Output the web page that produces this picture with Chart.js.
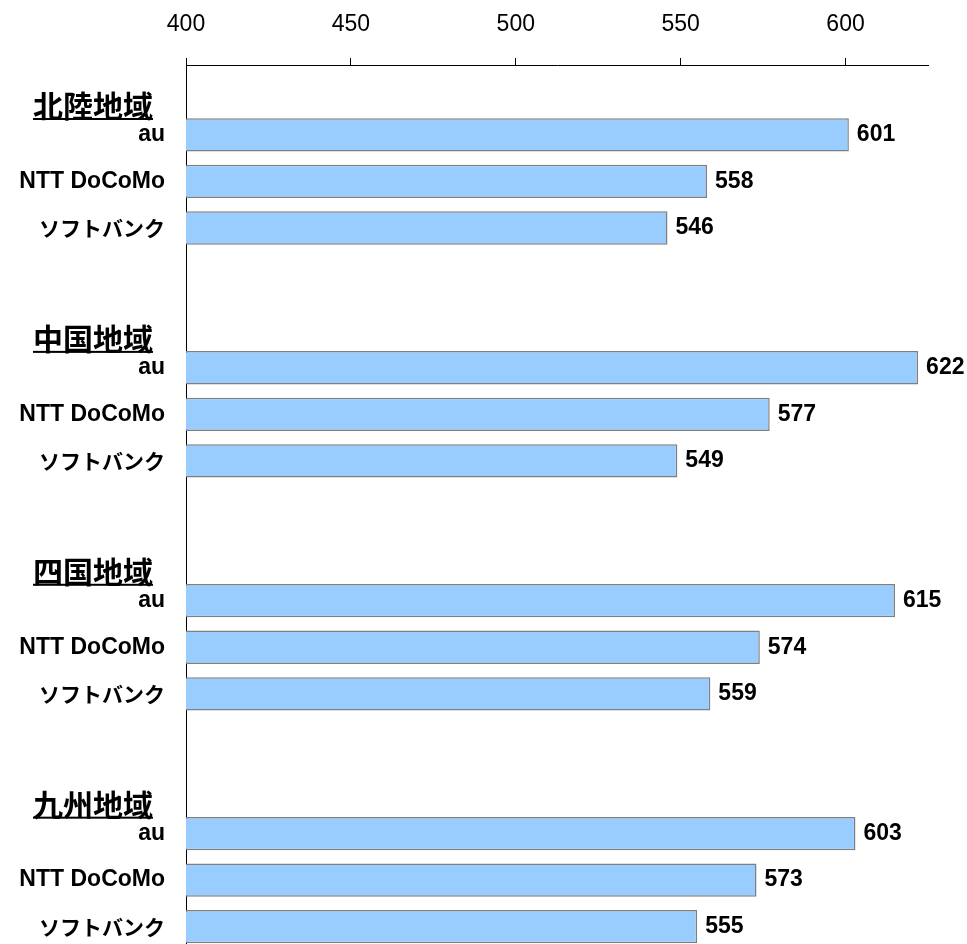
<!DOCTYPE html>
<html>
<head>
<meta charset="utf-8">
<script src="https://cdn.jsdelivr.net/npm/chart.js@4/dist/chart.umd.min.js"></script>
<style>
  html, body { margin: 0; padding: 0; background: #ffffff; }
  #wrap { width: 967px; height: 944px; }
</style>
</head>
<body>
<div id="wrap"><canvas id="c" width="967" height="944"></canvas></div>
<script>
// ---- data ----
const regions = ['北陸地域', '中国地域', '四国地域', '九州地域'];
const carriers = ['au', 'NTT DoCoMo', 'ソフトバンク'];
const auValues = [601, 622, 615, 603];
const docomoValues = [558, 577, 574, 573];
const softbankValues = [546, 549, 559, 555];
const xTicks = [400, 450, 500, 550, 600];
const xMin = 400;
const xMax = 625;

// ---- build rows: group header row, 3 carrier rows, blank spacer row ----
const rowLabels = [];
const rowValues = [];
const groupRows = []; // {index, text}
const seriesByCarrier = [auValues, docomoValues, softbankValues];
regions.forEach((reg, r) => {
  groupRows.push({ index: rowLabels.length, text: reg });
  rowLabels.push('');
  rowValues.push(null);
  carriers.forEach((c, k) => {
    rowLabels.push(c);
    rowValues.push(seriesByCarrier[k][r]);
  });
  if (r < regions.length - 1) {
    rowLabels.push('');
    rowValues.push(null);
  }
});

const latinFamily = '"Liberation Sans", Arial, "Noto Sans CJK JP", sans-serif';
const cjkFamily = '"Noto Sans CJK JP", "Liberation Sans", sans-serif';

// the plot area runs slightly past the bottom edge of the picture
const bottomOverflow = 6;
const extendPlotPlugin = {
  id: 'extendPlot',
  afterLayout(chart) {
    const y = chart.scales.y;
    y.bottom += bottomOverflow;
    y.height += bottomOverflow;
    y.configure();
    chart.chartArea.bottom += bottomOverflow;
    chart.chartArea.height += bottomOverflow;
  }
};

const valueLabelPlugin = {
  id: 'valueLabels',
  afterDatasetsDraw(chart) {
    const ctx = chart.ctx;
    const meta = chart.getDatasetMeta(0);
    ctx.save();
    ctx.font = 'bold 23px ' + latinFamily;
    ctx.fillStyle = '#000000';
    ctx.textAlign = 'left';
    ctx.textBaseline = 'middle';
    meta.data.forEach((bar, i) => {
      const v = rowValues[i];
      if (v === null || v === undefined) return;
      ctx.fillText(String(v), bar.x + 8, bar.y);
    });
    ctx.restore();
  }
};

const groupLabelPlugin = {
  id: 'groupLabels',
  afterDraw(chart) {
    const ctx = chart.ctx;
    const y = chart.scales.y;
    ctx.save();
    ctx.font = 'bold 30px ' + cjkFamily;
    ctx.fillStyle = '#000000';
    ctx.textAlign = 'left';
    ctx.textBaseline = 'middle';
    groupRows.forEach(g => {
      const p0 = y.getPixelForValue(g.index);
      const p1 = y.getPixelForValue(g.index + 1);
      const cy = p0 + (p1 - p0) * 0.38;
      const x = 33;
      ctx.fillText(g.text, x, cy);
      const w = ctx.measureText(g.text).width;
      ctx.fillRect(x, cy + 12, w, 2);
    });
    ctx.restore();
  }
};

new Chart(document.getElementById('c'), {
  type: 'bar',
  data: {
    labels: rowLabels,
    datasets: [{
      data: rowValues,
      backgroundColor: '#99CCFF',
      borderColor: '#7f7f7f',
      borderWidth: 1.5,
      borderSkipped: false,
      barPercentage: 0.715,
      categoryPercentage: 1.0
    }]
  },
  options: {
    indexAxis: 'y',
    responsive: false,
    animation: false,
    devicePixelRatio: 1,
    layout: { padding: { left: 0, right: 39, top: 0, bottom: 0 } },
    plugins: {
      legend: { display: false },
      tooltip: { enabled: false },
      title: { display: false }
    },
    scales: {
      x: {
        position: 'top',
        min: xMin,
        max: xMax,
        afterFit(scale) { scale.height = 65; scale.paddingLeft = 0; scale.paddingRight = 0; },
        afterBuildTicks(scale) { scale.ticks = xTicks.map(v => ({ value: v })); },
        ticks: {
          includeBounds: false,
          padding: 20,
          color: '#000000',
          font: { size: 23, family: latinFamily },
          maxRotation: 0
        },
        grid: {
          drawOnChartArea: false,
          drawTicks: true,
          tickLength: 7,
          color: '#000000',
          lineWidth: 1
        },
        border: { display: true, color: '#000000', width: 1 }
      },
      y: {
        afterFit(scale) { scale.width = 186; scale.paddingTop = 0; scale.paddingBottom = 0; },
        ticks: {
          padding: 21,
          color: '#000000',
          autoSkip: false,
          font: (ctx) => {
            const lab = rowLabels[ctx.index] || '';
            const kana = /[\u3040-\u30ff]/.test(lab);
            return kana
              ? { size: 21, weight: 'bold', family: cjkFamily }
              : { size: 23, weight: 'bold', family: latinFamily };
          }
        },
        grid: { display: true, drawOnChartArea: false, drawTicks: false },
        border: { display: true, color: '#000000', width: 1 }
      }
    }
  },
  plugins: [extendPlotPlugin, valueLabelPlugin, groupLabelPlugin]
});
</script>
</body>
</html>
